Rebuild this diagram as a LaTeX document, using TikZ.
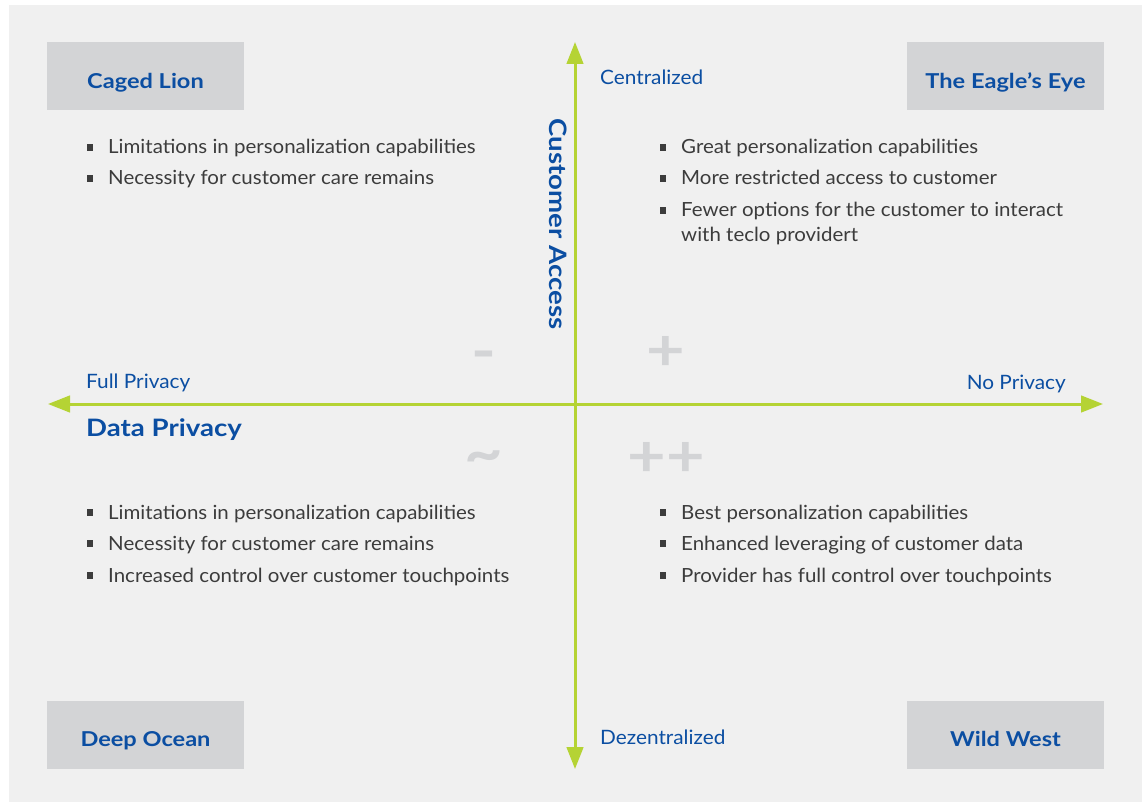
\documentclass[tikz,border=0pt]{standalone}
\usepackage{fontspec}
\setmainfont{Lato}[FakeStretch=1.05, BoldFeatures={FakeStretch=1.15}]
\usetikzlibrary{arrows.meta}
\definecolor{pagebg}{HTML}{F0F0F0}
\definecolor{boxgray}{HTML}{D3D4D6}
\definecolor{axisgreen}{HTML}{B5D334}
\definecolor{titleblue}{HTML}{0B4EA2}
\definecolor{bodygray}{HTML}{3C3C3C}
\definecolor{signgray}{HTML}{D3D4D6}
\newcommand{\bul}{\llap{\textcolor{bodygray}{\rule[3.3pt]{6.5pt}{6.3pt}}\hspace{15pt}}}
\tikzset{
  quadbox/.style={fill=boxgray, draw=none, minimum width=197pt, minimum height=68pt, inner sep=0pt},
  quadtitle/.style={anchor=base, inner sep=0pt, font=\fontsize{20.5}{24}\selectfont\bfseries, text=titleblue},
  axis/.style={draw=axisgreen, line width=3pt,
    -{Triangle[length=22pt,width=16.5pt]}},
  axislabel/.style={font=\fontsize{19.8}{22}\selectfont, text=titleblue, inner sep=0pt},
  axistitle/.style={font=\fontsize{24}{30}\selectfont\bfseries, text=titleblue, inner sep=0pt},
  bullet/.style={anchor=base west, inner sep=0pt, text=bodygray,
    font=\fontsize{19.5}{25}\selectfont},
  sign/.style={text=signgray, inner sep=0pt, font=\fontsize{58}{60}\selectfont\bfseries}
}
\begin{document}
\begin{tikzpicture}[x=1pt,y=-1pt]
  \useasboundingbox (0,0) rectangle (1142,802);
  \fill[pagebg] (9,5) rectangle (1142,802);

  % quadrant name boxes
  \node[quadbox] (lion)  at (145.5,76) {};
  \node[quadbox] (eagle) at (1005.5,76) {};
  \node[quadbox] (ocean) at (145.5,735) {};
  \node[quadbox] (west)  at (1005.5,735) {};
  \node[quadtitle] (liontitle)  at (145.5,88.5) {Caged Lion};
  \node[quadtitle] (eagletitle) at (1005.5,88.5) {The Eagle’s Eye};
  \node[quadtitle] (oceantitle) at (145.5,746) {Deep Ocean};
  \node[quadtitle] (westtitle)  at (1005.5,746) {Wild West};

  % axes
  \coordinate (top) at (575,42);
  \coordinate (bottom) at (575,769);
  \coordinate (left) at (48,404);
  \coordinate (right) at (1103,404);
  \coordinate (origin) at (575,404);
  \draw[axis] (origin) -- (top);
  \draw[axis] (origin) -- (bottom);
  \draw[axis] (origin) -- (left);
  \draw[axis] (origin) -- (right);

  % axis labels
  \node[axislabel, anchor=base west] (central) at (600,85) {Centralized};
  \node[axislabel, anchor=base west] (decentral) at (600,744.5) {Dezentralized};
  \node[axislabel, anchor=base west] (fullpriv) at (86,388.5) {Full Privacy};
  \node[axislabel, anchor=base east] (nopriv) at (1066,389) {No Privacy};
  \node[axistitle, anchor=base west] (dataprivacy) at (86,436) {Data Privacy};
  \node[axistitle, rotate=-90] (custaccess) at (558,224) {Customer Access};

  % rating signs
  \node[sign] (minus) at (484,361) {-};
  \node[sign] (plus) at (666,353) {+};
  \node[sign] (tilde) at (484,462) {\textasciitilde};
  \node[sign] (plusplus) at (666,459) {++};

  % top left
  \node[bullet] (tl1) at (108,154) {\bul Limitations in personalization capabilities};
  \node[bullet] (tl2) at (108,185) {\bul Necessity for customer care remains};

  % top right
  \node[bullet] (tr1) at (681,154) {\bul Great personalization capabilities};
  \node[bullet] (tr2) at (681,185) {\bul More restricted access to customer};
  \node[bullet] (tr3) at (681,217) {\bul Fewer options for the customer to interact};
  \node[bullet] (tr3b) at (681,242) {with teclo providert};

  % bottom left
  \node[bullet] (bl1) at (108,519) {\bul Limitations in personalization capabilities};
  \node[bullet] (bl2) at (108,550) {\bul Necessity for customer care remains};
  \node[bullet] (bl3) at (108,582) {\bul Increased control over customer touchpoints};

  % bottom right
  \node[bullet] (br1) at (681,519) {\bul Best personalization capabilities};
  \node[bullet] (br2) at (681,550) {\bul Enhanced leveraging of customer data};
  \node[bullet] (br3) at (681,582) {\bul Provider has full control over touchpoints};
\end{tikzpicture}
\end{document}
